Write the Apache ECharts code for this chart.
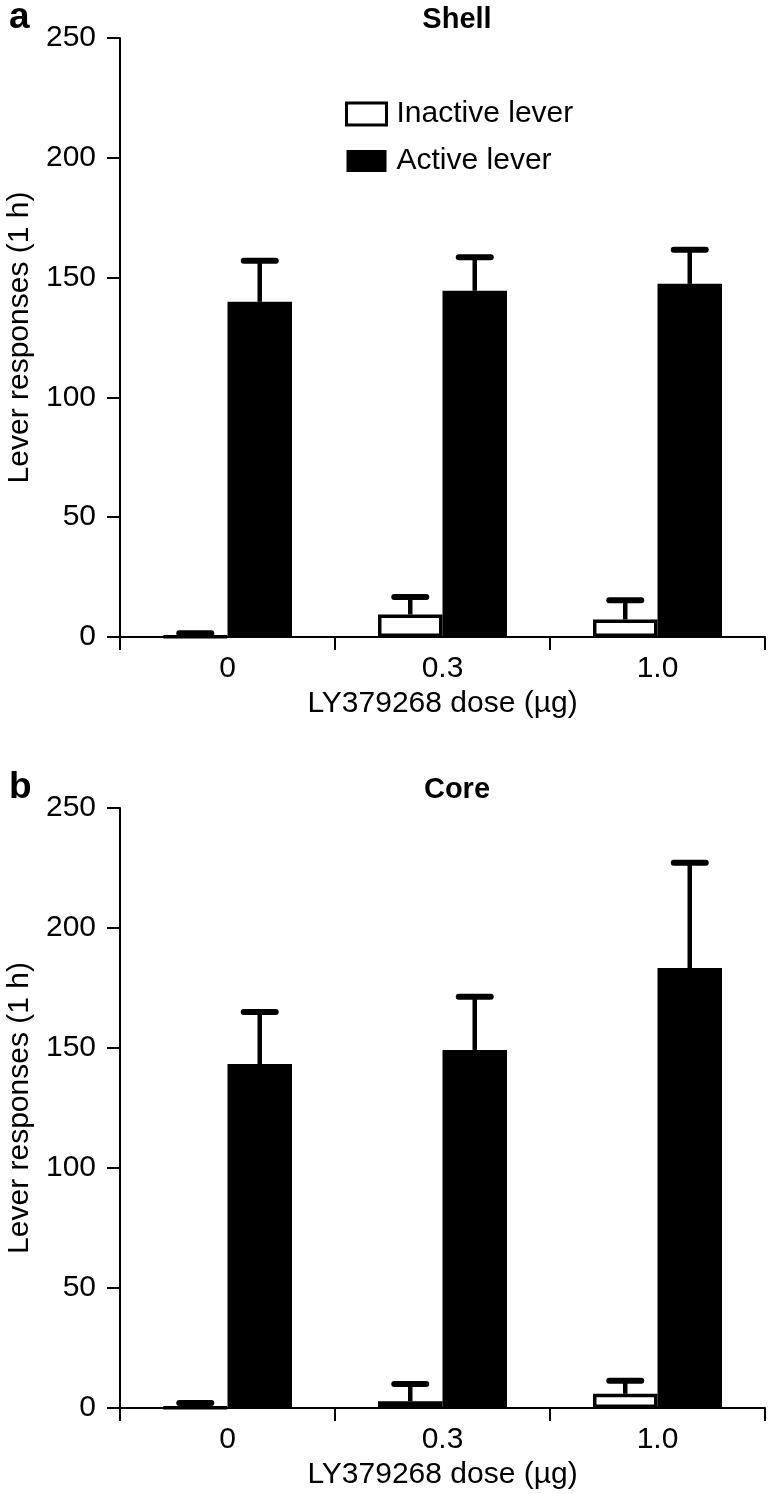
<!DOCTYPE html>
<html>
<head>
<meta charset="utf-8">
<script src="https://cdn.jsdelivr.net/npm/echarts@6/dist/echarts.min.js"></script>
<style>
html,body{margin:0;padding:0;background:#fff;}
#chart{width:769px;height:1494px;}
</style>
</head>
<body>
<div id="chart"></div>
<script>
// ---- data ----
const categories = ['0', '0.3', '1.0'];
const yTicks = [0, 50, 100, 150, 200, 250];
// Shell (panel a)
const shellInactive = [0.3, 9.4, 7.3];
const shellInactiveSem = [1.3, 7.3, 8.0];
const shellActive = [139.9, 144.5, 147.4];
const shellActiveSem = [17.1, 14.0, 14.2];
// Core (panel b)
const coreInactive = [0.2, 2.8, 5.9];
const coreInactiveSem = [1.9, 7.2, 5.5];
const coreActive = [143.3, 149.2, 183.3];
const coreActiveSem = [21.7, 22.2, 43.9];

const FONT = 'Liberation Sans';
const FS = 30;
const BAR_W = 0.30; // fraction of band

const chart = echarts.init(document.getElementById('chart'), null, {renderer: 'canvas'});

function errSeries(gridIdx, means, sems, side) {
  return {
    type: 'custom',
    xAxisIndex: gridIdx, yAxisIndex: gridIdx,
    z: 5,
    data: means.map((m, i) => [i, m, m + sems[i]]),
    renderItem: function (params, api) {
      const i = api.value(0);
      const band = api.size([1, 0])[0];
      const bw = band * BAR_W;
      const base = api.coord([i, api.value(1)]);
      const top = api.coord([i, api.value(2)]);
      const x = base[0] + side * bw / 2;
      const cap = 32;
      return {
        type: 'group',
        children: [
          {type: 'line', shape: {x1: x, y1: base[1], x2: x, y2: top[1]},
           style: {stroke: '#000', lineWidth: 4.5}},
          {type: 'line', shape: {x1: x - cap / 2, y1: top[1], x2: x + cap / 2, y2: top[1]},
           style: {stroke: '#000', lineWidth: 6, lineCap: 'round'}}
        ]
      };
    }
  };
}

function barSeries(gridIdx, name, data, filled) {
  return {
    type: 'bar', name: name,
    xAxisIndex: gridIdx, yAxisIndex: gridIdx,
    data: data,
    barWidth: (BAR_W * 100) + '%',
    barGap: '0%',
    z: 3,
    itemStyle: filled
      ? {color: '#000', borderColor: '#000', borderWidth: 0}
      : {color: '#fff', borderColor: '#000', borderWidth: 3.5}
  };
}

function xAxis(gridIdx) {
  return {
    type: 'category', gridIndex: gridIdx, data: categories,
    name: 'LY379268 dose (µg)', nameLocation: 'middle', nameGap: 52,
    nameTextStyle: {fontFamily: FONT, fontSize: FS, color: '#000'},
    axisLine: {lineStyle: {color: '#000', width: 2}},
    axisTick: {show: true, length: 13, lineStyle: {color: '#000', width: 2}},
    axisLabel: {fontFamily: FONT, fontSize: FS, color: '#000', margin: 17},
    splitLine: {show: false}
  };
}
function yAxis(gridIdx) {
  return {
    type: 'value', gridIndex: gridIdx, min: 0, max: 250, interval: 50,
    name: 'Lever responses (1 h)', nameLocation: 'middle', nameGap: 82,
    nameTextStyle: {fontFamily: FONT, fontSize: FS, color: '#000'},
    axisLine: {show: true, lineStyle: {color: '#000', width: 2}},
    axisTick: {show: true, length: 13, lineStyle: {color: '#000', width: 2}},
    axisLabel: {fontFamily: FONT, fontSize: FS, color: '#000', margin: 24,
      formatter: v => yTicks.includes(v) ? String(v) : ''},
    splitLine: {show: false}
  };
}

const option = {
  backgroundColor: '#fff',
  animation: false,
  title: [
    {text: 'Shell', left: 452, top: 0, textAlign: 'center',
     textStyle: {fontFamily: FONT, fontSize: 29, fontWeight: 'bold', color: '#000'}},
    {text: 'a', left: 4, top: -6,
     textStyle: {fontFamily: FONT, fontSize: 37, fontWeight: 'bold', color: '#000'}},
    {text: 'Core', left: 452, top: 770, textAlign: 'center',
     textStyle: {fontFamily: FONT, fontSize: 29, fontWeight: 'bold', color: '#000'}},
    {text: 'b', left: 4, top: 764,
     textStyle: {fontFamily: FONT, fontSize: 37, fontWeight: 'bold', color: '#000'}}
  ],
  legend: {
    left: 340, top: 94, orient: 'vertical', itemGap: 17,
    itemWidth: 40, itemHeight: 22, icon: 'rect',
    textStyle: {fontFamily: FONT, fontSize: FS, color: '#000', padding: [0, 0, 0, 5]},
    data: [
      {name: 'Inactive lever', itemStyle: {color: '#fff', borderColor: '#000', borderWidth: 3}},
      {name: 'Active lever', itemStyle: {color: '#000'}}
    ]
  },
  grid: [
    {left: 120, top: 38, width: 645, height: 599, containLabel: false, outerBoundsMode: 'none'},
    {left: 120, top: 808, width: 645, height: 600, containLabel: false, outerBoundsMode: 'none'}
  ],
  xAxis: [xAxis(0), xAxis(1)],
  yAxis: [yAxis(0), yAxis(1)],
  series: [
    barSeries(0, 'Inactive lever', shellInactive, false),
    barSeries(0, 'Active lever', shellActive, true),
    errSeries(0, shellInactive, shellInactiveSem, -1),
    errSeries(0, shellActive, shellActiveSem, 1),
    barSeries(1, 'Inactive lever', coreInactive, false),
    barSeries(1, 'Active lever', coreActive, true),
    errSeries(1, coreInactive, coreInactiveSem, -1),
    errSeries(1, coreActive, coreActiveSem, 1)
  ]
};
chart.setOption(option);
</script>
</body>
</html>
